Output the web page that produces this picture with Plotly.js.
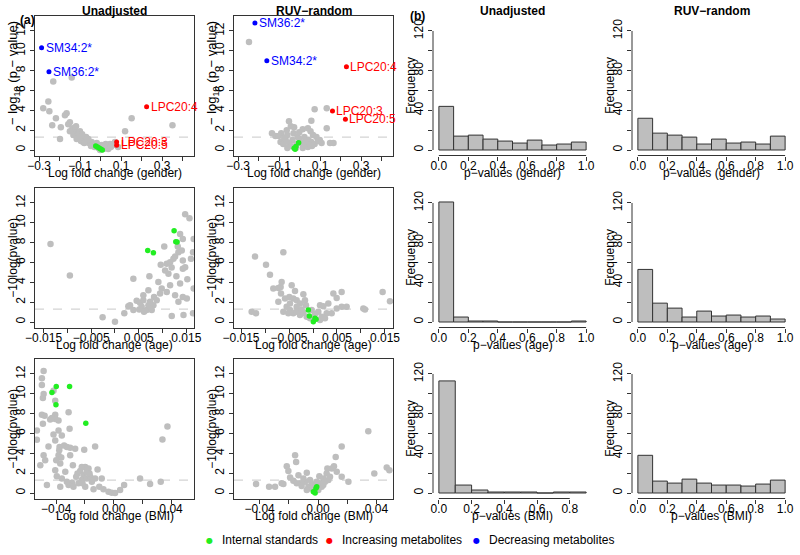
<!DOCTYPE html>
<html><head><meta charset="utf-8">
<script src="https://cdn.plot.ly/plotly-3.0.1.min.js"></script>
<style>body{margin:0;background:#fff}#chart{width:800px;height:555px}</style>
</head><body><div id="chart"></div>
<script>
// ---------------- text ----------------
const colTitles = ['Unadjusted', 'RUV\u2212random', 'Unadjusted', 'RUV\u2212random'];
const volcXTitles = ['Log fold change (gender)', 'Log fold change (age)', 'Log fold change (BMI)'];
const histXTitles = ['p\u2212values (gender)', 'p\u2212values (age)', 'p\u2212values (BMI)'];
const volcYTitles = ['\u2212 log<sub>10</sub> (p \u2212 value)', '\u221210log(pvalue)', '\u221210log(pvalue)'];
const histYTitle = 'Frequency';
const panelTags = ['(a)', '(b)'];
const legendNames = ['Internal standards', 'Increasing metabolites', 'Decreasing metabolites'];
const sigLine = 1.3;

// ---------------- volcano data: [log fold change, -log10 p] ----------------
const genderUnadjGray = [[-0.231,6.9],[-0.141,7.3],[-0.255,4.9],[-0.280,4.2],[-0.250,3.9],[-0.218,3.2],[-0.174,3.5],[-0.166,3.7],
 [-0.236,2.5],[-0.194,2.3],[-0.158,2.6],[-0.150,2.8],[-0.138,2.2],[-0.125,1.9],[-0.133,1.5],[-0.198,1.1],[-0.112,1.4],[-0.093,1.3],
 [-0.109,1.7],[-0.076,1.1],[-0.085,0.8],[-0.063,0.9],[-0.057,0.7],[-0.044,0.8],[-0.036,0.5],[-0.024,0.4],[-0.047,0.4],[-0.011,0.2],
 [0.021,0.2],[0.034,0.4],[0.046,0.6],[0.062,0.5],[0.070,0.8],[0.013,0.1],[-0.003,0.0],[0.005,0.5],[-0.071,1.3],[-0.096,0.9],[-0.117,1.1],
 [0.119,1.9],[0.151,3.2],[0.350,2.5],[-0.150,1.9],[-0.101,1.9],[-0.080,0.7],[-0.019,0.7],[0.037,0.1],[0.085,0.3],[-0.12,2.4],[-0.06,1.1],
 [-0.03,0.3],[0.025,0.6],[0.05,0.3],[-0.09,1.6]];
const genderUnadjStd = [[-0.024,0.4],[-0.016,0.3],[-0.008,0.2],[0.000,0.1],[0.008,0.0]];
const genderUnadjInc = [[0.224,4.37],[0.078,0.80],[0.078,0.47]];
const genderUnadjIncLabels = ['LPC20:4','LPC20:3','LPC20:5'];
const genderUnadjDec = [[-0.288,10.3],[-0.252,7.9]];
const genderUnadjDecLabels = ['SM34:2*','SM36:2*'];

const genderRuvGray = [[-0.247,10.9],[0.073,4.1],[0.132,4.2],[0.132,2.2],[-0.052,2.9],[0.057,2.96],[-0.135,1.7],[-0.118,1.4],[-0.090,1.7],
 [-0.063,2.0],[-0.043,2.4],[-0.060,1.5],[-0.030,1.7],[-0.002,1.8],[0.015,2.1],[0.040,2.2],[0.053,1.9],[0.065,1.5],[0.082,1.3],[0.098,1.0],
 [0.107,0.7],[0.148,0.7],[0.165,0.7],[0.043,1.0],[0.023,1.3],[-0.010,1.3],[-0.035,1.0],[-0.068,1.0],[-0.093,0.8],[-0.080,0.6],[-0.052,0.7],
 [0.007,0.7],[0.032,0.6],[0.057,0.8],[0.073,0.6],[0.090,0.9],[-0.043,0.4],[-0.018,0.2],[0.015,0.2],[0.040,0.3],[-0.060,0.2],[0.023,0.5],
 [-0.102,1.4],[-0.027,2.3],[0.0,1.1],[-0.015,0.6],[0.03,0.9],[0.06,0.4],[-0.075,1.2]];
const genderRuvStd = [[-0.027,0.17],[-0.018,0.34],[-0.022,0.07],[-0.005,0.74]];
const genderRuvInc = [[0.228,8.4],[0.160,3.94],[0.223,3.1]];
const genderRuvIncLabels = ['LPC20:4','LPC20:3','LPC20:5'];
const genderRuvDec = [[-0.218,12.8],[-0.160,9.0]];
const genderRuvDecLabels = ['SM36:2*','SM34:2*'];

const ageUnadjGray = [[-0.01354,7.87],[-0.00947,4.7],[-0.0026,0.47],[0.0,0.03],[0.00196,0.87],[0.00316,1.7],[0.00386,4.37],[0.00281,1.6],
 [0.00456,2.13],[0.00526,1.93],[0.00561,1.53],[0.00667,1.2],[0.00702,1.7],[0.00596,2.2],[0.00737,2.03],[0.00807,1.7],[0.00772,1.2],
 [0.00702,3.2],[0.00723,4.6],[0.00912,4.03],[0.00982,3.37],[0.00821,2.53],[0.00947,2.87],[0.01088,3.03],[0.01158,3.7],[0.01368,3.87],
 [0.01123,4.87],[0.01053,5.2],[0.00961,5.77],[0.01088,5.87],[0.01158,6.03],[0.01228,6.37],[0.01263,6.6],[0.01333,7.03],[0.01403,7.2],
 [0.01425,6.2],[0.01474,5.53],[0.01425,5.37],[0.01596,6.37],[0.01639,7.03],[0.01653,8.37],[0.01425,8.37],[0.01368,8.87],[0.01319,7.6],
 [0.01035,7.6],[0.01474,10.87],[0.01565,10.47],[0.01425,2.53],[0.01509,2.37],[0.01193,0.6],[0.01439,0.7],[0.01639,0.87],[0.01653,3.37],
 [0.01263,2.7],[0.01333,2.03],[0.00877,2.2],[0.00596,2.7],[0.0051,1.27],[0.0061,1.03],[0.00386,1.2],[0.0119,5.5],[0.0129,4.6],[0.0152,4.3]];
const ageUnadjStd = [[0.00688,7.2],[0.00807,6.97],[0.01242,9.2],[0.01277,8.1],[0.01305,8.07]];

const ageRuvGray = [[-0.01208,6.6],[-0.00618,7.03],[-0.00979,5.77],[-0.00896,4.77],[-0.00827,3.37],[-0.00722,3.43],[-0.00674,3.53],
 [-0.00653,4.03],[-0.00667,2.87],[-0.00444,3.7],[-0.00375,3.13],[-0.00201,2.8],[-0.00493,2.53],[-0.00583,2.37],[-0.0041,2.37],[-0.0034,2.2],
 [-0.00549,1.53],[-0.00479,1.87],[-0.00271,1.87],[-0.00167,2.2],[-0.01278,1.03],[-0.01188,0.87],[0.00424,2.87],[0.00597,3.03],[0.00493,2.43],
 [0.00319,1.87],[0.00146,1.7],[0.00215,1.6],[0.00493,1.37],[0.00597,1.53],[0.00701,1.53],[0.01049,1.37],[0.01083,1.27],[0.01451,3.03],
 [0.01604,2.1],[0.00389,0.87],[0.00111,1.03],[0.00285,0.87],[-0.00479,1.2],[-0.0041,0.87],[-0.0034,1.03],[-0.00271,0.7],[-0.00201,0.93],
 [-0.00132,0.53],[-0.00062,0.37],[0.00181,0.53],[0.0025,0.37],[0.00146,0.2],[-0.00514,0.87],[-0.00618,1.03],[-0.00722,2.03],[-0.0034,1.53],
 [-0.00236,1.27],[-0.00146,1.7],[-0.00028,1.2],[0.00042,0.8]];
const ageRuvStd = [[-0.00097,1.2],[-0.00076,0.6],[0.00042,0.37],[0.00007,0.03],[0.00063,0.27]];

const bmiUnadjGray = [[-0.0488,12.3],[-0.05,11.57],[-0.05,10.9],[-0.0488,9.97],[-0.0493,9.57],[-0.0419,10.3],[-0.0407,9.3],[-0.05,7.9],
 [-0.0481,7.8],[-0.0407,7.9],[-0.0442,7.4],[-0.0407,7.47],[-0.0384,7.3],[-0.043,7.57],[-0.0314,8.13],[-0.0493,6.97],[-0.0535,6.3],
 [-0.0535,5.37],[-0.0488,3.8],[-0.0511,2.8],[-0.0477,3.3],[-0.0465,0.8],[-0.0419,5.9],[-0.0384,6.3],[-0.0361,5.8],[-0.0407,5.3],
 [-0.0454,4.7],[-0.0377,4.63],[-0.0345,4.8],[-0.0326,4.63],[-0.0303,4.57],[-0.0268,4.47],[-0.0379,4.3],[-0.0384,3.8],[-0.0365,3.57],
 [-0.04,3.3],[-0.0372,2.97],[-0.0303,3.8],[-0.0284,2.8],[-0.0407,2.3],[-0.0396,1.7],[-0.0361,1.47],[-0.0372,0.63],[-0.0314,0.8],
 [-0.0291,1.03],[-0.0337,2.13],[-0.0326,1.13],[-0.0307,6.47],[-0.0205,4.37],[-0.0129,4.7],[-0.0198,2.63],[-0.0175,2.47],[-0.0233,2.23],
 [-0.0252,1.97],[-0.021,1.8],[-0.0222,1.3],[-0.0187,1.47],[-0.0163,1.63],[-0.0245,0.97],[-0.0198,0.63],[-0.0152,1.13],[-0.0112,2.37],
 [-0.0129,1.47],[-0.014,0.37],[-0.0083,1.47],[-0.01,0.63],[-0.0071,0.37],[-0.0036,0.13],[-0.0013,0.03],[0.001,0.0],[0.0045,0.3],
 [0.0073,0.8],[0.0184,1.47],[0.0254,0.9],[0.0328,1.13],[0.034,5.4],[0.0375,6.7],[-0.0222,2.63],[-0.0187,2.13],[-0.0261,1.63],
 [-0.0217,0.97],[-0.0168,1.97],[-0.028,0.63]];
const bmiUnadjStd = [[-0.04,10.73],[-0.0307,10.73],[-0.043,10.13],[-0.0402,8.9],[-0.0194,7.03]];

const bmiRuvGray = [[-0.0424,0.9],[-0.0335,0.63],[-0.0294,0.63],[-0.0249,0.97],[-0.0237,0.9],[-0.0214,2.7],[-0.0203,2.23],[-0.0157,3.8],
 [-0.015,3.13],[-0.0191,1.57],[-0.0169,1.23],[-0.0134,1.8],[-0.0123,0.97],[-0.0089,1.13],[-0.0077,2.03],[-0.0066,0.63],[-0.0043,0.9],
 [-0.002,0.63],[-0.0009,1.13],[0.0009,1.7],[0.0036,1.47],[0.0059,1.97],[0.0064,2.47],[0.0094,2.47],[0.0109,2.7],[0.0121,3.63],[0.0128,2.13],
 [0.0082,1.63],[0.0162,4.7],[0.0162,1.63],[0.0208,1.13],[0.0344,6.23],[0.0385,1.97],[0.047,2.57],[0.0488,2.3],[-0.0146,0.97],[-0.0112,0.7],
 [-0.01,1.47],[-0.0055,1.3],[-0.0032,0.47],[0.0014,0.97],[0.0025,0.63],[0.0048,1.13],[-0.0055,0.47],[-0.0077,0.3],[0.0002,0.3],
 [0.0036,0.8],[0.0071,1.3]];
const bmiRuvStd = [[-0.0032,0.13],[-0.002,0.0],[-0.0009,0.63],[-0.0014,0.47]];

// ---------------- histogram data (bins of width 0.1) ----------------
const binMids = [0.05,0.15,0.25,0.35,0.45,0.55,0.65,0.75,0.85,0.95];
const histGenderUnadj = [44,14,15,11,9,7,10,5,6,8];
const histGenderRuv   = [32,17,15,13,6,11,7,8,6,14];
const histAgeUnadj    = [121,5,1,1,0,0,0,0,0,1];
const histAgeRuv      = [53,19,14,5,11,6,7,5,6,3];
const histBmiUnadj    = [113,8,3,1,1,1,0,1,1];
const histBmiRuv      = [38,12,10,14,10,8,8,7,9,13];

// ---------------- tick labels ----------------
const genderTickVals = [-0.3,-0.2,-0.1,0,0.1,0.2,0.3,0.4];
const genderTickText = ['\u22120.3','','\u22120.1','','0.1','','0.3',''];
const ageTickVals = [-0.015,-0.01,-0.005,0,0.005,0.01,0.015];
const ageTickText = ['\u22120.015','','\u22120.005','','0.005','','0.015'];
const bmiTickVals = [-0.04,-0.02,0,0.02,0.04];
const bmiTickText = ['\u22120.04','','0.00','','0.04'];
const volcYTicks = [0,2,4,6,8,10,12];
const histYTickVals = [0,20,40,60,80,100,120];
const histYTickText = ['0','','40','','80','','120'];
const histXTicks = [0,0.2,0.4,0.6,0.8,1.0];
const histXTicksShort = [0,0.2,0.4,0.6,0.8];
const fmt1 = v => v.toFixed(1);

// ---------------- layout geometry ----------------
const W = 800, H = 555;
const colLeft = [35, 234, 433, 632], panelW = 159;
const rowTop = [16, 188, 359], panelH = 139.5;
const px = v => v / W, py = v => 1 - v / H;
const FONT = 'Liberation Sans, Arial, Helvetica, sans-serif';
const LINE = '#333333';
const GREY = '#BEBEBE', GREEN = '#22EE22', RED = '#FF0000', BLUE = '#0000FF';

const volcYRange = [-0.555, 13.51];
const histYRange = [-5.55, 135.1];
const volcXRanges = [[[-0.32,0.455],[-0.32,0.455]], [[-0.0168,0.0166],[-0.01646,0.01667]], [[-0.0548,0.056],[-0.0575,0.0513]]];
const volcTicks = [[genderTickVals,genderTickText],[ageTickVals,ageTickText],[bmiTickVals,bmiTickText]];

const volcData = [
  [{gray:genderUnadjGray,std:genderUnadjStd,inc:genderUnadjInc,incL:genderUnadjIncLabels,dec:genderUnadjDec,decL:genderUnadjDecLabels},
   {gray:genderRuvGray,std:genderRuvStd,inc:genderRuvInc,incL:genderRuvIncLabels,dec:genderRuvDec,decL:genderRuvDecLabels}],
  [{gray:ageUnadjGray,std:ageUnadjStd},{gray:ageRuvGray,std:ageRuvStd}],
  [{gray:bmiUnadjGray,std:bmiUnadjStd},{gray:bmiRuvGray,std:bmiRuvStd}]
];
const histData = [[histGenderUnadj,histGenderRuv],[histAgeUnadj,histAgeRuv],[histBmiUnadj,histBmiRuv]];

const traces = [], annotations = [], shapes = [];
const layout = {
  width: W, height: H, margin: {l:0, r:0, t:0, b:0},
  paper_bgcolor: '#fff', plot_bgcolor: '#fff', showlegend: false,
  font: {family: FONT, size: 12, color: '#000'},
  bargap: 0
};

function ann(o) {
  annotations.push(Object.assign({showarrow:false, xref:'paper', yref:'paper', font:{family:FONT,size:12,color:'#000'}}, o));
}
const xs = a => a.map(p => p[0]), ys = a => a.map(p => p[1]);

for (let r = 0; r < 3; r++) {
  for (let c = 0; c < 4; c++) {
    const k = r*4 + c + 1;
    const xa = 'xaxis' + (k === 1 ? '' : k), ya = 'yaxis' + (k === 1 ? '' : k);
    const xr = 'x' + (k === 1 ? '' : k), yr = 'y' + (k === 1 ? '' : k);
    const L = colLeft[c], T = rowTop[r];
    const common = {ticks:'outside', ticklen:4, tickwidth:1, tickcolor:LINE, showgrid:false, zeroline:false,
                    tickfont:{family:FONT,size:12,color:'#000'}, fixedrange:true};
    if (c < 2) {
      // volcano
      const d = volcData[r][c];
      layout[xa] = Object.assign({}, common, {domain:[px(L), px(L+panelW)], anchor: yr, range: volcXRanges[r][c],
        tickmode:'array', tickvals: volcTicks[r][0], ticktext: volcTicks[r][1], showline:true, mirror:true, linecolor:LINE, linewidth:1,
        ticklabelstandoff: -5});
      layout[ya] = Object.assign({}, common, {domain:[py(T+panelH), py(T)], anchor: xr, range: volcYRange,
        tickmode:'array', tickvals: volcYTicks, ticktext: volcYTicks.map(String), tickangle:-90,
        showline:true, mirror:true, linecolor:LINE, linewidth:1});
      shapes.push({type:'line', xref: xr + ' domain', yref: yr, x0:0, x1:1, y0:sigLine, y1:sigLine,
        line:{color:'#C8C8C8', width:1, dash:'dash'}, layer:'below'});
      traces.push({type:'scatter', mode:'markers', x: xs(d.gray), y: ys(d.gray), xaxis: xr, yaxis: yr,
        marker:{color:GREY, size:6.5}, hoverinfo:'skip', name:'Metabolites'});
      traces.push({type:'scatter', mode:'markers', x: xs(d.std), y: ys(d.std), xaxis: xr, yaxis: yr,
        marker:{color:GREEN, size:5.5}, hoverinfo:'skip', name: legendNames[0]});
      if (d.inc) {
        traces.push({type:'scatter', mode:'markers', x: xs(d.inc), y: ys(d.inc), xaxis: xr, yaxis: yr,
          marker:{color:RED, size:5}, hoverinfo:'skip', name: legendNames[1]});
        traces.push({type:'scatter', mode:'markers', x: xs(d.dec), y: ys(d.dec), xaxis: xr, yaxis: yr,
          marker:{color:BLUE, size:5}, hoverinfo:'skip', name: legendNames[2]});
        d.inc.forEach((p, i) => ann({xref: xr, yref: yr, x: p[0], y: p[1], text: d.incL[i], xanchor:'left', yanchor:'middle', xshift:2,
          font:{family:FONT, size:12, color:RED}}));
        d.dec.forEach((p, i) => ann({xref: xr, yref: yr, x: p[0], y: p[1], text: d.decL[i], xanchor:'left', yanchor:'middle', xshift:2,
          font:{family:FONT, size:12, color:BLUE}}));
      }
      ann({x: px(L + panelW/2), y: py(T + panelH + 17.5), text: volcXTitles[r], xanchor:'center', yanchor:'middle'});
      ann({x: px(L - 22), y: py(r === 0 ? T + 57 : T + panelH/2), text: volcYTitles[r], textangle:-90, xanchor:'center', yanchor:'middle',
           font:{family:FONT, size: r === 0 ? 13 : 12, color:'#000'}});
    } else {
      // histogram
      const counts = histData[r][c-2];
      const short = (r === 2 && c === 2);
      const xRange = short ? [-0.036, 0.936] : [-0.04, 1.04];
      const xt = short ? histXTicksShort : histXTicks;
      layout[xa] = Object.assign({}, common, {domain:[px(L), px(L+panelW)], anchor: yr, range: xRange,
        tickmode:'array', tickvals: xt, ticktext: xt.map(fmt1), showline:false, ticklabelstandoff: -5});
      layout[ya] = Object.assign({}, common, {domain:[py(T+panelH), py(T)], anchor: xr, range: histYRange,
        tickmode:'array', tickvals: histYTickVals, ticktext: histYTickText, tickangle:-90, showline:false});
      shapes.push({type:'line', xref: xr, yref: yr + ' domain', x0: xt[0], x1: xt[xt.length-1], y0:0, y1:0, line:{color:LINE, width:1}});
      shapes.push({type:'line', xref: xr + ' domain', yref: yr, x0:0, x1:0, y0: histYTickVals[0], y1: histYTickVals[histYTickVals.length-1], line:{color:LINE, width:1}});
      traces.push({type:'bar', x: binMids.slice(0, counts.length), y: counts, xaxis: xr, yaxis: yr, width: 0.1,
        marker:{color:GREY, line:{color:LINE, width:1}}, hoverinfo:'skip'});
      ann({x: px(L + panelW/2), y: py(T + panelH + 17.5), text: histXTitles[r], xanchor:'center', yanchor:'middle'});
      ann({x: px(L - 22), y: py(T + panelH/2), text: histYTitle, textangle:-90, xanchor:'center', yanchor:'middle'});
    }
    if (r === 0) {
      ann({x: px(L + panelW/2), y: py(11), text: '<b>' + colTitles[c] + '</b>', xanchor:'center', yanchor:'middle'});
    }
  }
}
// panel tags, placed relative to the first and third column boxes
ann({xref:'x domain', yref:'y domain', x: 0, y: 1, xshift: -8, yshift: -4, text: '<b>' + panelTags[0] + '</b>', xanchor:'center', yanchor:'middle'});
ann({xref:'x3 domain', yref:'y3 domain', x: 0, y: 1, xshift: -16, yshift: 0, text: '<b>' + panelTags[1] + '</b>', xanchor:'center', yanchor:'middle'});

// legend row
const legendColors = [GREEN, RED, BLUE];
const legendTextX = [220, 340, 487];
legendNames.forEach((n, i) => {
  ann({x: px(legendTextX[i] - 11), y: py(540), text: '\u25CF', xanchor:'center', yanchor:'middle',
       font:{family:'DejaVu Sans', size:8, color: legendColors[i]}});
  ann({x: px(legendTextX[i]), y: py(540), text: n, xanchor:'left', yanchor:'middle'});
});

layout.annotations = annotations;
layout.shapes = shapes;
Plotly.newPlot('chart', traces, layout, {staticPlot:true, displayModeBar:false});
</script>
</body></html>
